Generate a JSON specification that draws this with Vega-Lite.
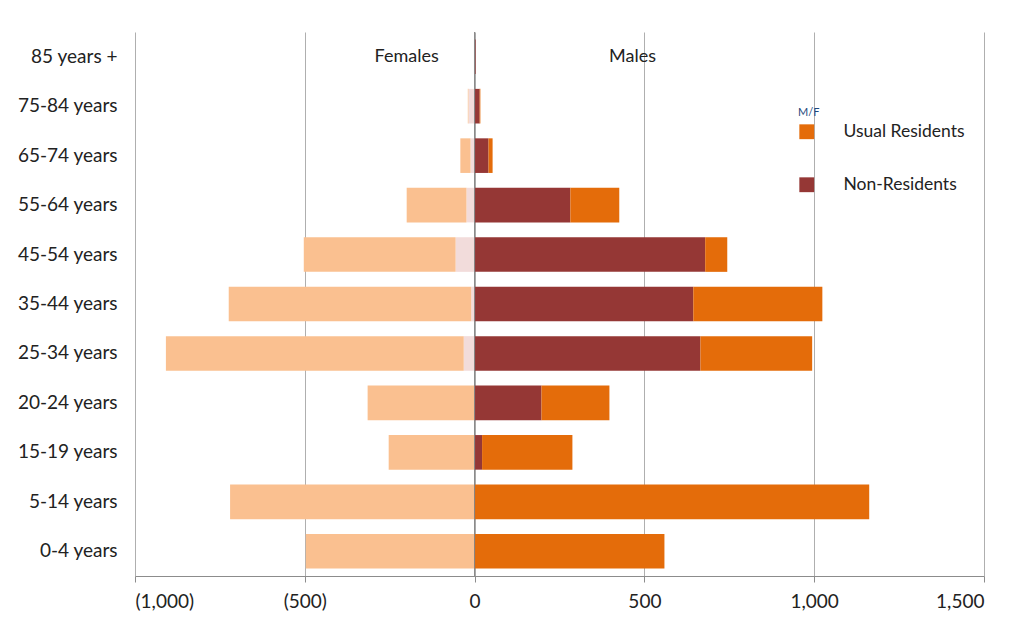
{
  "$schema": "https://vega.github.io/schema/vega-lite/v6.json",
  "width": 849,
  "height": 544,
  "autosize": {"type": "none"},
  "padding": {"left": 135, "top": 32, "right": 33, "bottom": 45},
  "background": "white",
  "config": {
    "font": "Lato",
    "view": {"stroke": null}
  },
  "datasets": {
    "bars": [
      {"age": "85 years +", "series": "Non-Residents", "sex": "M", "ord": 1, "value": 3},
      {"age": "85 years +", "series": "Non-Residents (F)", "sex": "F", "ord": 1, "value": -2},
      {"age": "75-84 years", "series": "Non-Residents", "sex": "M", "ord": 1, "value": 15},
      {"age": "75-84 years", "series": "Usual Residents", "sex": "M", "ord": 2, "value": 2},
      {"age": "75-84 years", "series": "Non-Residents (F)", "sex": "F", "ord": 1, "value": -18},
      {"age": "75-84 years", "series": "Usual Residents (F)", "sex": "F", "ord": 2, "value": -2},
      {"age": "65-74 years", "series": "Non-Residents", "sex": "M", "ord": 1, "value": 41},
      {"age": "65-74 years", "series": "Usual Residents", "sex": "M", "ord": 2, "value": 12},
      {"age": "65-74 years", "series": "Non-Residents (F)", "sex": "F", "ord": 1, "value": -12},
      {"age": "65-74 years", "series": "Usual Residents (F)", "sex": "F", "ord": 2, "value": -30},
      {"age": "55-64 years", "series": "Non-Residents", "sex": "M", "ord": 1, "value": 282},
      {"age": "55-64 years", "series": "Usual Residents", "sex": "M", "ord": 2, "value": 144},
      {"age": "55-64 years", "series": "Non-Residents (F)", "sex": "F", "ord": 1, "value": -24},
      {"age": "55-64 years", "series": "Usual Residents (F)", "sex": "F", "ord": 2, "value": -176},
      {"age": "45-54 years", "series": "Non-Residents", "sex": "M", "ord": 1, "value": 679},
      {"age": "45-54 years", "series": "Usual Residents", "sex": "M", "ord": 2, "value": 65},
      {"age": "45-54 years", "series": "Non-Residents (F)", "sex": "F", "ord": 1, "value": -56},
      {"age": "45-54 years", "series": "Usual Residents (F)", "sex": "F", "ord": 2, "value": -447},
      {"age": "35-44 years", "series": "Non-Residents", "sex": "M", "ord": 1, "value": 644},
      {"age": "35-44 years", "series": "Usual Residents", "sex": "M", "ord": 2, "value": 380},
      {"age": "35-44 years", "series": "Non-Residents (F)", "sex": "F", "ord": 1, "value": -10},
      {"age": "35-44 years", "series": "Usual Residents (F)", "sex": "F", "ord": 2, "value": -714},
      {"age": "25-34 years", "series": "Non-Residents", "sex": "M", "ord": 1, "value": 665},
      {"age": "25-34 years", "series": "Usual Residents", "sex": "M", "ord": 2, "value": 329},
      {"age": "25-34 years", "series": "Non-Residents (F)", "sex": "F", "ord": 1, "value": -32},
      {"age": "25-34 years", "series": "Usual Residents (F)", "sex": "F", "ord": 2, "value": -877},
      {"age": "20-24 years", "series": "Non-Residents", "sex": "M", "ord": 1, "value": 197},
      {"age": "20-24 years", "series": "Usual Residents", "sex": "M", "ord": 2, "value": 200},
      {"age": "20-24 years", "series": "Usual Residents (F)", "sex": "F", "ord": 2, "value": -315},
      {"age": "15-19 years", "series": "Non-Residents", "sex": "M", "ord": 1, "value": 22},
      {"age": "15-19 years", "series": "Usual Residents", "sex": "M", "ord": 2, "value": 266},
      {"age": "15-19 years", "series": "Usual Residents (F)", "sex": "F", "ord": 2, "value": -253},
      {"age": "5-14 years", "series": "Usual Residents", "sex": "M", "ord": 2, "value": 1162},
      {"age": "5-14 years", "series": "Usual Residents (F)", "sex": "F", "ord": 2, "value": -720},
      {"age": "0-4 years", "series": "Usual Residents", "sex": "M", "ord": 2, "value": 559},
      {"age": "0-4 years", "series": "Usual Residents (F)", "sex": "F", "ord": 2, "value": -497}
    ],
    "labels": [
      {"age": "85 years +", "value": -200, "text": "Females"},
      {"age": "85 years +", "value": 465, "text": "Males"}
    ],
    "zero": [{"value": 0}]
  },
  "layer": [
    {
      "data": {"name": "bars"},
      "mark": {"type": "bar"},
      "encoding": {
        "y": {
          "field": "age",
          "type": "nominal",
          "sort": ["85 years +", "75-84 years", "65-74 years", "55-64 years", "45-54 years", "35-44 years", "25-34 years", "20-24 years", "15-19 years", "5-14 years", "0-4 years"],
          "scale": {"paddingInner": 0.3, "paddingOuter": 0.15},
          "axis": {
            "title": null,
            "domain": false,
            "ticks": false,
            "labelFont": "Lato",
            "labelFontSize": 19,
            "labelColor": "#222222",
            "labelPadding": 18
          }
        },
        "x": {
          "field": "value",
          "type": "quantitative",
          "stack": "zero",
          "scale": {"domain": [-1000, 1500], "nice": false},
          "axis": {
            "title": null,
            "values": [-1000, -500, 0, 500, 1000, 1500],
            "labelExpr": "datum.value < 0 ? '(' + format(-datum.value, ',') + ')' : format(datum.value, ',')",
            "labelFont": "Lato",
            "labelFontSize": 19,
            "labelColor": "#222222",
            "labelPadding": 10,
            "grid": true,
            "gridColor": "#AFAFAF",
            "gridWidth": 1,
            "domainColor": "#8C8C8C",
            "tickColor": "#8C8C8C",
            "tickSize": 6
          }
        },
        "color": {
          "field": "series",
          "type": "nominal",
          "scale": {
            "domain": ["Usual Residents", "Non-Residents", "Usual Residents (F)", "Non-Residents (F)"],
            "range": ["#E46C0A", "#953735", "#FAC090", "#F2DCDB"]
          },
          "legend": {
            "values": ["Usual Residents", "Non-Residents"],
            "title": "M/F",
            "titleFontSize": 11,
            "titleColor": "#1F497D",
            "titleFontWeight": "normal",
            "orient": "none",
            "legendX": 663,
            "legendY": 75,
            "symbolType": "square",
            "symbolSize": 220,
            "rowPadding": 34,
            "labelFont": "Lato",
            "labelFontSize": 17.5,
            "labelColor": "#222222",
            "labelOffset": 28
          }
        },
        "order": {"field": "ord", "type": "quantitative"}
      }
    },
    {
      "data": {"name": "zero"},
      "mark": {"type": "rule", "color": "#7F7F7F", "strokeWidth": 1},
      "encoding": {"x": {"field": "value", "type": "quantitative"}}
    },
    {
      "data": {"name": "labels"},
      "mark": {"type": "text", "font": "Lato", "fontSize": 18, "color": "#222222", "align": "center"},
      "encoding": {
        "y": {"field": "age", "type": "nominal", "sort": ["85 years +", "75-84 years", "65-74 years", "55-64 years", "45-54 years", "35-44 years", "25-34 years", "20-24 years", "15-19 years", "5-14 years", "0-4 years"]},
        "x": {"field": "value", "type": "quantitative"},
        "text": {"field": "text"}
      }
    }
  ]
}
